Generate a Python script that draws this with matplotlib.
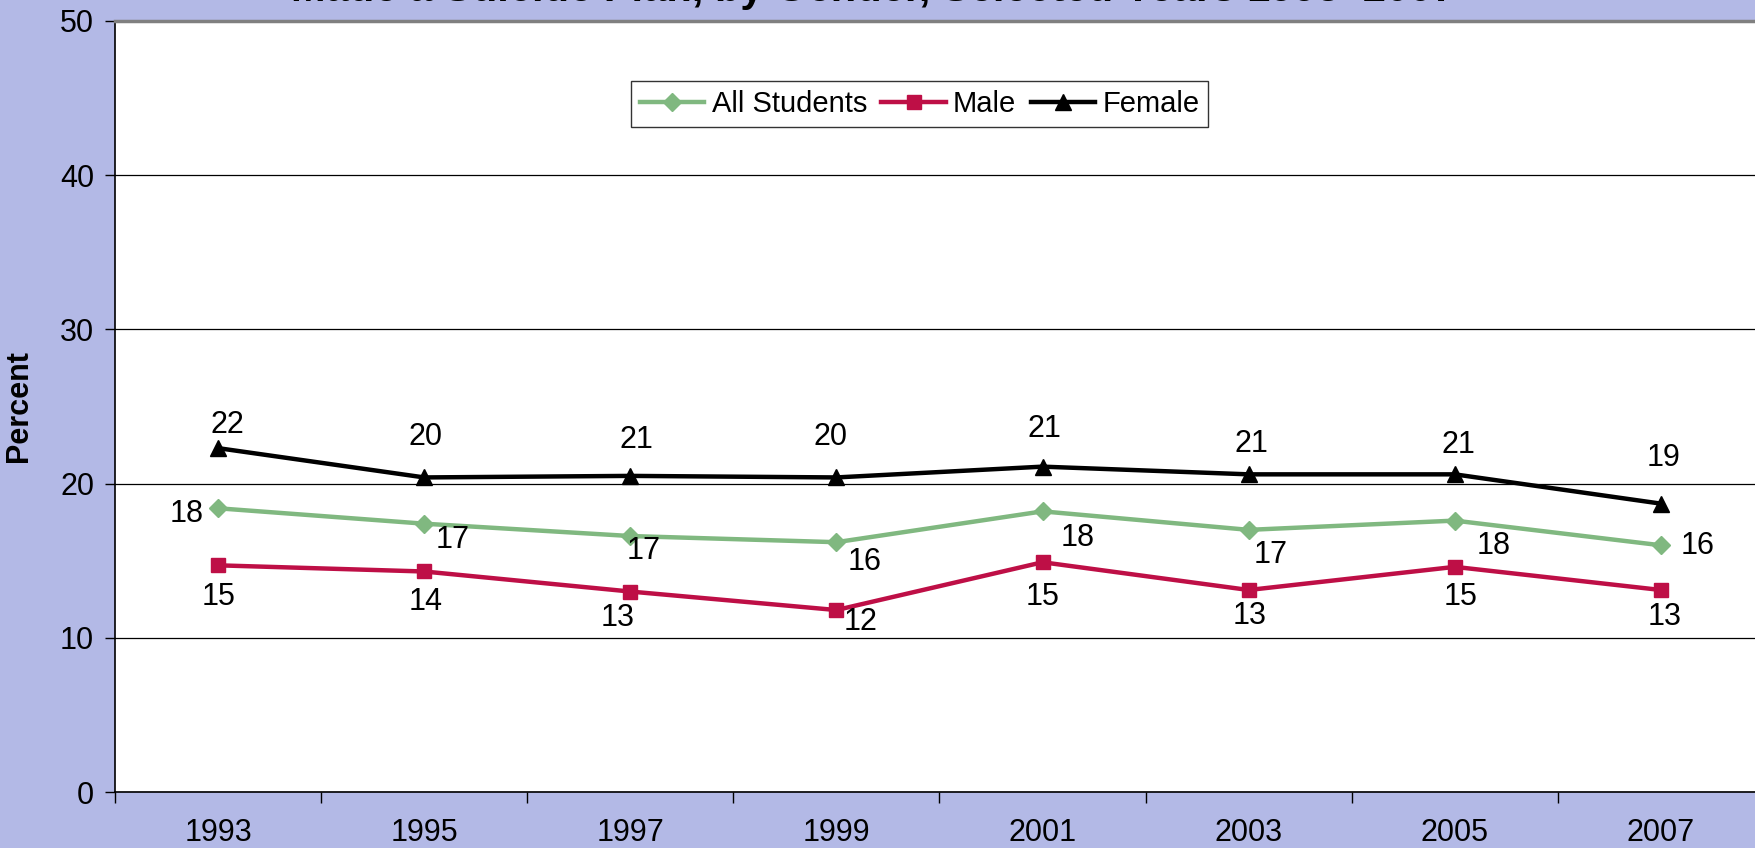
import matplotlib.pyplot as plt
import numpy as np

plt.rcParams['font.family'] = ['Liberation Sans', 'DejaVu Sans']

years = ['1993', '1995', '1997', '1999', '2001', '2003', '2005', '2007']
all_students = [18.4, 17.4, 16.6, 16.2, 18.2, 17.0, 17.6, 16.0]
male = [14.7, 14.3, 13.0, 11.8, 14.9, 13.1, 14.6, 13.1]
female = [22.3, 20.4, 20.5, 20.4, 21.1, 20.6, 20.6, 18.7]

lbl_all = ['18', '17', '17', '16', '18', '17', '18', '16']
lbl_male = ['15', '14', '13', '12', '15', '13', '15', '13']
lbl_female = ['22', '20', '21', '20', '21', '21', '21', '19']

# label offsets in pixels (layout only)
off_all = [(-31, -6), (28, -16), (13, -15), (28, -20), (35, -27), (22, -25), (39, -25), (37, -1)]
off_male = [(1, -32), (1, -31), (-13, -26), (24, -12), (0, -35), (1, -26), (6, -30), (4, -27)]
off_female = [(9, 23), (1, 40), (6, 36), (-6, 40), (2, 38), (3, 30), (4, 29), (3, 46)]

bg = '#B3B9E6'
c_all = '#80B880'
c_male = '#BE0F46'
c_female = '#000000'
fs = 22

fig = plt.figure(figsize=(17.56, 8.48), dpi=100, facecolor=bg)
ax = fig.add_axes([115/1756, 56/848, 1649/1756, 771/848])
ax.set_facecolor('white')

x = np.arange(len(years))
ax.plot(x, all_students, color=c_all, lw=3.2, marker='D', ms=9, label='All Students', zorder=3)
ax.plot(x, male, color=c_male, lw=3.2, marker='s', ms=10.5, label='Male', zorder=3)
ax.plot(x, female, color=c_female, lw=3.2, marker='^', ms=11, label='Female', zorder=3)

for vals, lbls, offs in [(all_students, lbl_all, off_all), (male, lbl_male, off_male), (female, lbl_female, off_female)]:
    for xi, v, t, o in zip(x, vals, lbls, offs):
        ax.annotate(t, (xi, v), xytext=o, textcoords='offset pixels',
                    ha='center', va='center', fontsize=fs)

ax.set_xlim(-0.5, 7.5)
ax.set_ylim(0, 50)
ax.set_yticks(np.arange(0, 51, 10))
ax.yaxis.grid(True, color='black', lw=0.9)
ax.set_axisbelow(True)
ax.set_xticks(x)
ax.set_xticklabels(years)
ax.set_xticks(np.arange(-0.5, 8, 1), minor=True)
ax.tick_params(axis='x', which='major', length=0, pad=19, labelsize=22)
ax.tick_params(axis='x', which='minor', length=8, width=1, direction='out')
ax.tick_params(axis='y', length=7, width=1, direction='out', pad=8, labelsize=22)

for s in ['left', 'bottom']:
    ax.spines[s].set_color('black')
    ax.spines[s].set_linewidth(1.2)
ax.spines['top'].set_color('#808080')
ax.spines['top'].set_linewidth(2.5)
ax.spines['right'].set_visible(False)

ax.set_ylabel('Percent', fontsize=22, fontweight='bold')
ax.yaxis.set_label_coords(-(115 - 34) / 1649, 0.5)

leg = ax.legend(loc='upper center', bbox_to_anchor=(0.488, 0.922), ncol=3, fontsize=21,
                frameon=True, fancybox=False, edgecolor='black', handlelength=2.2,
                columnspacing=0.5, handletextpad=0.25, borderpad=0.3, borderaxespad=0)
leg.get_frame().set_linewidth(1.0)

fig.text(0.497, 1 - 0.5/848, 'Made a Suicide Plan, by Gender, Selected Years 1993\u20132007',
         ha='center', va='baseline', fontsize=30, fontweight='bold')

fig.savefig('out.png', dpi=100, facecolor=bg)
